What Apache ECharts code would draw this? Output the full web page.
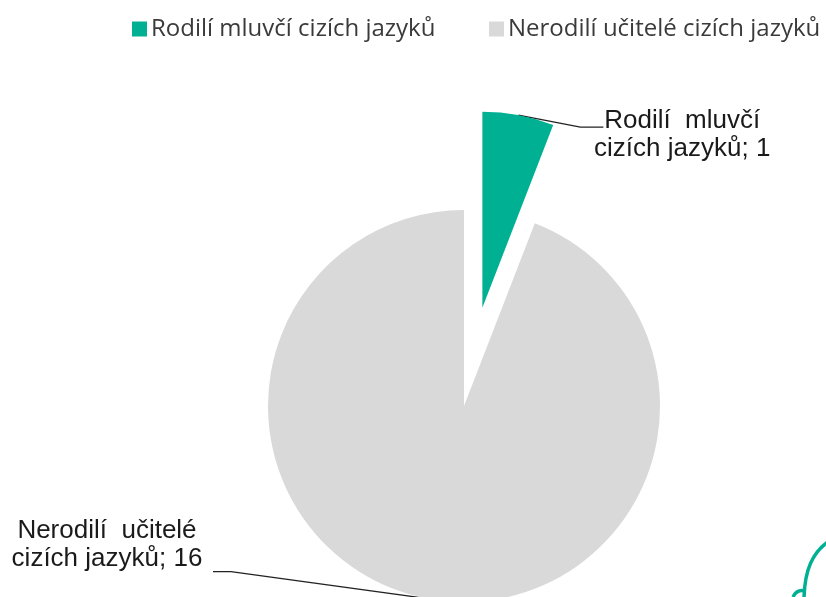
<!DOCTYPE html>
<html>
<head>
<meta charset="utf-8">
<script src="https://cdn.jsdelivr.net/npm/echarts@6/dist/echarts.min.js"></script>
<style>
  html, body { margin: 0; padding: 0; background: #fff; }
  #chart { width: 826px; height: 597px; }
</style>
</head>
<body>
<div id="chart"></div>
<script>
const categories = ["Rodilí mluvčí cizích jazyků", "Nerodilí učitelé cizích jazyků"];
const labelTexts = ["Rodilí  mluvčí\ncizích jazyků", "Nerodilí  učitelé\ncizích jazyků"];
const values = [1, 16];
const colors = ["#00b092", "#d9d9d9"];

const chartDom = document.getElementById("chart");
const chart = echarts.init(chartDom);

function legendAt(left, name) {
    return {
        top: 12,
        left: left,
        itemWidth: 15,
        itemHeight: 15,
        itemGap: 8,
        icon: "rect",
        selectedMode: false,
        textStyle: {
            fontFamily: "Open Sans",
            fontSize: 24,
            color: "#3a3a3a",
            padding: [0, 0, 0, -1],
        },
        data: [name],
    };
}

const option = {
    animation: false,
    legend: [legendAt(127, categories[0]), legendAt(484, categories[1])],
    series: [
        {
            type: "pie",
            center: [464, 406],
            radius: 196,
            startAngle: 90,
            clockwise: true,
            selectedMode: "single",
            selectedOffset: 100,
            emphasis: { disabled: true },
            label: {
                show: true,
                position: "outside",
                fontFamily: "Liberation Sans",
                fontSize: 26,
                lineHeight: 28,
                color: "#1a1a1a",
                align: "center",
                overflow: "none",
                formatter: function (p) {
                    return labelTexts[p.dataIndex] + "; " + p.value;
                },
            },
            labelLine: {
                show: true,
                lineStyle: { color: "#222", width: 1.3 },
            },
            labelLayout: function (p) {
                const a = p.labelLinePoints[0];
                if (p.dataIndex === 0) {
                    return {
                        align: "center",
                        verticalAlign: "middle",
                        labelLinePoints: [a, [a[0] + 62, a[1] + 12], [a[0] + 85, a[1] + 12]],
                    };
                }
                return {
                    x: a[0] - 321,
                    y: a[1] - 54,
                    align: "center",
                    verticalAlign: "middle",
                    labelLinePoints: [a, [a[0] - 197, a[1] - 27], [a[0] - 215, a[1] - 27]],
                };
            },
            data: categories.map(function (name, i) {
                const item = {
                    name: name,
                    value: values[i],
                    selected: i === 0,
                    itemStyle: { color: colors[i] },
                };
                if (i === 0) {
                    // the selected slice keeps its own label position, so steer it with length and padding
                    item.labelLine = { length: -20 };
                    item.label = { padding: [0, 0, 0, 265], overflow: "none" };
                }
                return item;
            }),
        },
    ],
    graphic: [
        {
            type: "bezierCurve",
            shape: { x1: 829, y1: 541, cpx1: 812, cpy1: 553, cpx2: 805, cpy2: 570, x2: 804, y2: 597 },
            style: { fill: null, stroke: "#00b092", lineWidth: 3.5 },
        },
        {
            type: "bezierCurve",
            shape: { x1: 805, y1: 591, cpx1: 797, cpy1: 589, x2: 793, y2: 597 },
            style: { fill: null, stroke: "#00b092", lineWidth: 3.5 },
        },
    ],
};

chart.setOption(option);
</script>
</body>
</html>
